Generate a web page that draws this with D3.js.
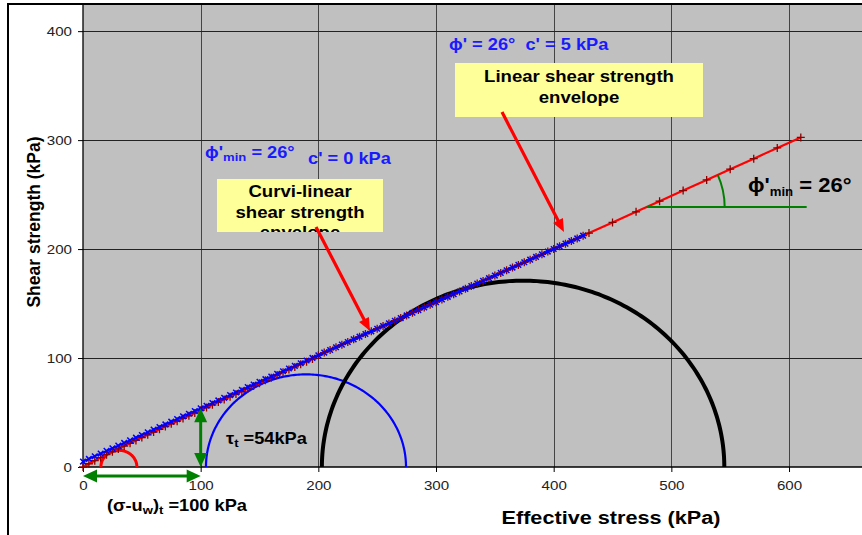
<!DOCTYPE html>
<html>
<head>
<meta charset="utf-8">
<script src="https://cdn.jsdelivr.net/npm/d3@7"></script>
<style>
  body { margin: 0; background: #fff; }
  svg { display: block; font-family: "Liberation Sans", Arial, Helvetica, sans-serif; }
</style>
</head>
<body>
<svg id="chart" width="862" height="535"></svg>
<script>
// Axis ticks
const xTicks = [0, 100, 200, 300, 400, 500, 600];
const yTicks = [0, 100, 200, 300, 400];

// Effective normal stress (kPa) of the closely spaced envelope points
const sigmaDense = [0, 5, 10, 15, 20, 25, 30, 35, 40, 45, 50, 55, 60, 65, 70, 75, 80, 85, 90, 95,
  100, 105, 110, 115, 120, 125, 130, 135, 140, 145, 150, 155, 160, 165, 170, 175, 180, 185, 190, 195,
  200, 205, 210, 215, 220, 225, 230, 235, 240, 245, 250, 255, 260, 265, 270, 275, 280, 285, 290, 295,
  300, 305, 310, 315, 320, 325, 330, 335, 340, 345, 350, 355, 360, 365, 370, 375, 380, 385, 390, 395,
  400, 405, 410, 415, 420, 425, 430];

// Curvi-linear envelope (red, c' = 0 kPa), shear strength in kPa
const tauCurved = [0.0, 3.0, 5.8, 8.6, 11.3, 14.0, 16.6, 19.2, 21.8, 24.4, 27.0, 29.5, 32.1, 34.6, 37.1, 39.6, 42.1, 44.6, 47.1, 49.6,
  52.1, 54.6, 57.1, 59.6, 62.0, 64.5, 67.0, 69.4, 71.9, 74.4, 76.8, 79.6, 82.0, 84.5, 86.9, 89.4, 91.8, 94.2, 96.7, 99.1,
  102.5, 105.0, 107.4, 109.9, 112.3, 114.7, 117.2, 119.6, 122.1, 124.5, 126.9, 129.4, 131.8, 134.2, 136.7, 139.1, 141.6, 144.0, 146.4, 148.9,
  151.3, 153.8, 156.2, 158.6, 161.1, 163.5, 166.0, 168.4, 170.8, 173.3, 175.7, 178.1, 180.6, 183.0, 185.5, 187.9, 190.3, 192.8, 195.2, 197.7,
  200.1, 202.5, 205.0, 207.4, 209.8, 212.3, 214.7];

// Widely spaced continuation of the red envelope
const sigmaSparse = [450, 470, 490, 510, 530, 550, 570, 590, 610];
const tauSparse = [224.5, 234.2, 244.0, 253.7, 263.5, 273.3, 283.0, 292.8, 302.5];

// Linear envelope (blue, phi' = 26 deg, c' = 5 kPa), shear strength in kPa, sigma 0..425
const tauLinear = [5.0, 7.4, 9.9, 12.3, 14.8, 17.2, 19.6, 22.1, 24.5, 26.9, 29.4, 31.8, 34.3, 36.7, 39.1, 41.6, 44.0, 46.5, 48.9, 51.3,
  53.8, 56.2, 58.7, 61.1, 63.5, 66.0, 68.4, 70.8, 73.3, 75.7, 78.2, 80.6, 83.0, 85.5, 87.9, 90.4, 92.8, 95.2, 97.7, 100.1,
  102.5, 105.0, 107.4, 109.9, 112.3, 114.7, 117.2, 119.6, 122.1, 124.5, 126.9, 129.4, 131.8, 134.2, 136.7, 139.1, 141.6, 144.0, 146.4, 148.9,
  151.3, 153.8, 156.2, 158.6, 161.1, 163.5, 166.0, 168.4, 170.8, 173.3, 175.7, 178.1, 180.6, 183.0, 185.5, 187.9, 190.3, 192.8, 195.2, 197.7,
  200.1, 202.5, 205.0, 207.4, 209.8, 212.3];

// Mohr circles: centre and radius (kPa)
const mohrCentres = [30.5, 189.5, 374];
const mohrRadii = [15.3, 85, 171];
const mohrColors = ["#ff0000", "#0000ff", "#000000"];
const mohrWidths = [3, 2.2, 4];

// Annotated values
const sigmaT = 100;   // (sigma - uw)_t
const tauT = 54;      // tau_t
const phiDeg = 26;
const cPrime = 5;
const angleStart = 479;   // where the angle reference line leaves the envelope
const angleEnd = 615;

const svg = d3.select("#chart");
const SX = 1.14;   // horizontal text stretch of the chart

const x = d3.scaleLinear().domain([0, 700]).range([83, 906.7]);
const y = d3.scaleLinear().domain([0, 424]).range([467, 5]);

// outer chart frame
svg.append("rect").attr("x", 8).attr("y", 4).attr("width", 1000).attr("height", 1000)
  .attr("fill", "#fff").attr("stroke", "#000").attr("stroke-width", 2);

// plot area
svg.append("rect").attr("x", x(0)).attr("y", y(424)).attr("width", x(700) - x(0)).attr("height", y(0) - y(424))
  .attr("fill", "#c0c0c0");

// gridlines
const grid = svg.append("g").attr("stroke-width", 1);
grid.selectAll(".gx").data(xTicks.filter(d => d > 0)).join("line")
  .attr("x1", d => Math.round(x(d)) + 0.5).attr("x2", d => Math.round(x(d)) + 0.5)
  .attr("y1", y(424)).attr("y2", y(0)).attr("stroke", "#444");
grid.selectAll(".gy").data(yTicks.filter(d => d > 0)).join("line")
  .attr("x1", x(0)).attr("x2", x(700))
  .attr("y1", d => Math.round(y(d)) + 0.5).attr("y2", d => Math.round(y(d)) + 0.5)
  .attr("stroke", "#222");

// axes
const xAxis = d3.axisBottom(x).tickValues(xTicks).tickSize(5).tickPadding(8).tickFormat(d3.format("d"));
const yAxis = d3.axisLeft(y).tickValues(yTicks).tickSize(5).tickPadding(6).tickFormat(d3.format("d"));
const gx = svg.append("g").attr("transform", `translate(0,${y(0)})`).call(xAxis);
const gy = svg.append("g").attr("transform", `translate(${x(0)},0)`).call(yAxis);
gx.select(".domain").attr("d", `M${x(0)},0H${x(700)}`).attr("stroke", "#000").attr("stroke-width", 1.3);
gy.select(".domain").attr("d", `M0,${y(424)}V${y(0)}`).attr("stroke", "#000").attr("stroke-width", 1.3);
[gx, gy].forEach(g => {
  g.selectAll(".tick line").attr("stroke", "#000");
  g.selectAll(".tick text").attr("font-size", 13.5).attr("fill", "#222")
    .attr("font-family", "'Liberation Sans', Arial, sans-serif");
});
gx.selectAll(".tick text").attr("transform", "scale(1.12,1)");
gy.selectAll(".tick text").attr("x", -11 / 1.12).attr("transform", "scale(1.12,1)");

// stretched text helper: parts are [string, isSubscript]
function label(px, py, size, parts, opts = {}) {
  const g = svg.append("g").attr("transform", `translate(${px},${py}) scale(${opts.sx || SX},1)`);
  const t = g.append("text").attr("x", 0).attr("y", 0)
    .attr("font-size", size).attr("font-weight", "bold")
    .attr("fill", opts.fill || "#000").attr("text-anchor", opts.anchor || "start")
    .attr("xml:space", "preserve");
  const subSize = opts.subSize || size * 0.7;
  const shift = opts.shift || size * 0.22;
  let down = false;
  parts.forEach(([s, sub]) => {
    const ts = t.append("tspan").text(s);
    if (sub && !down) { ts.attr("dy", shift); down = true; }
    else if (!sub && down) { ts.attr("dy", -shift); down = false; }
    if (sub) ts.attr("font-size", subSize);
  });
  return g;
}

// axis titles
label(611, 524, 19, [["Effective stress (kPa)"]], { anchor: "middle" });
svg.append("text").attr("transform", "translate(40,222) rotate(-90)").attr("text-anchor", "middle")
  .attr("font-size", 17.5).attr("font-weight", "bold").text("Shear strength (kPa)");

// Mohr circles (upper halves)
const arcLine = d3.line().x(d => x(d[0])).y(d => y(d[1]));
mohrCentres.forEach((c, i) => {
  const r = mohrRadii[i];
  const pts = d3.range(0, 181).map(a => {
    const t = Math.PI * a / 180;
    return [c + r * Math.cos(t), r * Math.sin(t)];
  });
  svg.append("path").attr("d", arcLine(pts)).attr("fill", "none")
    .attr("stroke", mohrColors[i]).attr("stroke-width", mohrWidths[i]);
});

// envelopes
const redPts = sigmaDense.map((s, i) => [s, tauCurved[i]])
  .concat(sigmaSparse.map((s, i) => [s, tauSparse[i]]));
const bluePts = tauLinear.map((t, i) => [sigmaDense[i], t]);
const envLine = d3.line().x(d => x(d[0])).y(d => y(d[1]));

svg.append("path").attr("d", envLine(redPts)).attr("fill", "none")
  .attr("stroke", "#ff0000").attr("stroke-width", 2.2);
svg.append("path").attr("d", envLine(bluePts)).attr("fill", "none")
  .attr("stroke", "#0000ff").attr("stroke-width", 2);

svg.append("g").selectAll("path").data(redPts).join("path")
  .attr("transform", d => `translate(${x(d[0])},${y(d[1])})`)
  .attr("d", "M-4,0H4M0,-4V4").attr("stroke", "#8b0000").attr("stroke-width", 1.3).attr("fill", "none");
svg.append("g").selectAll("path").data(bluePts).join("path")
  .attr("transform", d => `translate(${x(d[0])},${y(d[1])})`)
  .attr("d", "M-2.8,-2.8L2.8,2.8M-2.8,2.8L2.8,-2.8").attr("stroke", "#0000ff").attr("stroke-width", 1.5).attr("fill", "none");

// arrow helper: straight shaft with filled triangular head(s)
function arrow(x1, y1, x2, y2, color, width, headLen, headW, both) {
  const g = svg.append("g");
  const ang = Math.atan2(y2 - y1, x2 - x1);
  const ux = Math.cos(ang), uy = Math.sin(ang);
  const sx1 = both ? x1 + ux * headLen * 0.8 : x1, sy1 = both ? y1 + uy * headLen * 0.8 : y1;
  const sx2 = x2 - ux * headLen * 0.8, sy2 = y2 - uy * headLen * 0.8;
  g.append("line").attr("x1", sx1).attr("y1", sy1).attr("x2", sx2).attr("y2", sy2)
    .attr("stroke", color).attr("stroke-width", width);
  const head = (tx, ty, dx, dy) => {
    const bx = tx - dx * headLen, by = ty - dy * headLen;
    const px = -dy * headW / 2, py = dx * headW / 2;
    return `M${tx},${ty}L${bx + px},${by + py}L${bx - px},${by - py}Z`;
  };
  g.append("path").attr("d", head(x2, y2, ux, uy)).attr("fill", color);
  if (both) g.append("path").attr("d", head(x1, y1, -ux, -uy)).attr("fill", color);
}

// tension annotations
arrow(x(0), 476, x(sigmaT), 476, "#008000", 3, 14, 13, true);
arrow(x(sigmaT), y(0), x(sigmaT), y(tauT), "#008000", 3, 14, 13, true);

// angle reference line and arc
const ay = y(cPrime + Math.tan(phiDeg * Math.PI / 180) * angleStart);
svg.append("line").attr("x1", x(angleStart)).attr("x2", x(angleEnd)).attr("y1", ay).attr("y2", ay)
  .attr("stroke", "#008000").attr("stroke-width", 2);
{
  const cx = x(angleStart), r = 78;
  const slope = (y(0) - y(Math.tan(phiDeg * Math.PI / 180) * 100)) / (x(100) - x(0));
  const a = Math.atan(slope);
  svg.append("path")
    .attr("d", `M${cx + r},${ay}A${r},${r} 0 0 0 ${cx + r * Math.cos(a)},${ay - r * Math.sin(a)}`)
    .attr("fill", "none").attr("stroke", "#008000").attr("stroke-width", 2);
}

// yellow call-out boxes
function callout(id, bx, by, bw, bh, lines, baseY, lh) {
  svg.append("clipPath").attr("id", id).append("rect")
    .attr("x", bx).attr("y", by).attr("width", bw).attr("height", bh);
  svg.append("rect").attr("x", bx).attr("y", by).attr("width", bw).attr("height", bh).attr("fill", "#ffff99");
  const holder = svg.append("g").attr("clip-path", `url(#${id})`);
  const g = holder.append("g").attr("transform", `translate(${bx + bw / 2},0) scale(${SX},1)`);
  const t = g.append("text").attr("text-anchor", "middle")
    .attr("font-size", 16.3).attr("font-weight", "bold").attr("fill", "#000");
  lines.forEach((l, i) => t.append("tspan").attr("x", 0).attr("y", baseY + i * lh).text(l));
}
callout("clipLin", 455, 63, 248, 54, ["Linear shear strength", "envelope"], 82, 20.6);
callout("clipCur", 217, 179, 166, 53, ["Curvi-linear", "shear strength", "envelope"], 197, 20.6);

// red pointers from the boxes to the envelopes
arrow(502, 112, 564, 232, "#ff0000", 3.2, 13, 11, false);
arrow(316, 227, 370, 331, "#ff0000", 3.2, 13, 11, false);

// blue parameter labels
const blue = "#1a1aff";
label(449, 50, 16, [["\u03d5' = 26\u00b0\u00a0\u00a0c' = 5 kPa"]], { fill: blue });
label(205, 158, 16, [["\u03d5'"], ["min", true], [" = 26\u00b0"]], { fill: blue, subSize: 11.5, shift: 3 });
label(308, 164, 16, [["c' = 0 kPa"]], { fill: blue });

// angle label
label(748, 192, 20, [["\u03d5'"], ["min", true], [" = 26\u00b0"]], { sx: 1.1, subSize: 12, shift: 4 });

// tension labels
label(226, 444, 16, [["\u03c4"], ["t", true], [" =54kPa"]], { subSize: 11.5, shift: 3 });
label(107, 511, 16, [["(\u03c3-u"], ["w", true], [")"], ["t", true], [" =100 kPa"]], { subSize: 11.5, shift: 3 });
</script>
</body>
</html>
